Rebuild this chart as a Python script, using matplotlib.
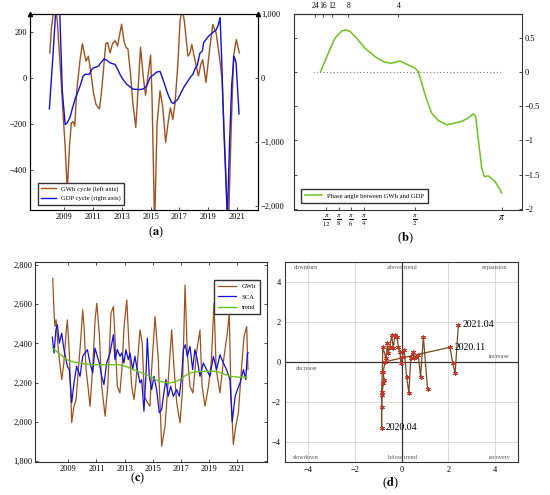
import numpy as np
import matplotlib
matplotlib.use("Agg")
import matplotlib.pyplot as plt
from matplotlib.lines import Line2D

plt.rcParams["font.family"] = ["Liberation Serif", "DejaVu Serif"]
plt.rcParams["mathtext.fontset"] = "stix"
plt.rcParams["font.size"] = 6

BROWN = "#a3501f"
BLUE = "#1010e0"
GREEN = "#6cc21c"
FRAME = "#333333"

# ---------------- (a) cycles ----------------
a_gwh_t = [2007.98, 2008.1, 2008.32, 2008.5, 2008.7, 2008.9, 2009.05, 2009.2, 2009.35,
           2009.48, 2009.6, 2009.72, 2009.85, 2010.09, 2010.25, 2010.5, 2010.67, 2010.85,
           2011.02, 2011.2, 2011.44, 2011.6, 2011.75, 2011.88, 2012.0, 2012.18, 2012.35,
           2012.53, 2012.7, 2012.98, 2013.15, 2013.3, 2013.42, 2013.6, 2013.75, 2013.97,
           2014.1, 2014.3, 2014.5, 2014.65, 2014.8, 2015.0, 2015.1, 2015.28, 2015.45,
           2015.66, 2015.85, 2016.05, 2016.25, 2016.38, 2016.55, 2016.7, 2016.9, 2017.05,
           2017.2, 2017.35, 2017.6, 2017.75, 2017.87, 2018.05, 2018.33, 2018.5, 2018.63,
           2018.86, 2019.1, 2019.33, 2019.56, 2019.8, 2019.97, 2020.2, 2020.4, 2020.6,
           2020.78, 2020.97, 2021.18]
a_gwh = [110, 220, 330, 250, 60, -150, -300, -490, -300,
         -195, -190, -210, -60, 81, 150, 74, 95, 20,
         -64, -115, -135, -50, 60, 150, 155, 110, 150,
         163, 140, 235, 160, 132, 128, 20, -100, -215,
         -80, 135, 0, -75, 0, 100, -80, -650, -200,
         -55, -130, -280, -180, -130, -180, -110, 60, 250,
         300, 250, 96, 110, 147, 90, 9, 60, 80,
         -19, 120, 234, 198, 90, 0, -350, -700, -250,
         96, 168, 110]

a_gdp_t = [2007.95, 2008.2, 2008.42, 2008.56, 2008.68, 2008.85, 2009.05, 2009.2, 2009.39,
           2009.55, 2009.74, 2010.09, 2010.3, 2010.44, 2010.74, 2010.9, 2011.02, 2011.37,
           2011.5, 2011.76, 2011.95, 2012.18, 2012.53, 2012.7, 2012.87, 2013.1, 2013.34,
           2013.8, 2014.27, 2014.5, 2014.73, 2014.96, 2015.19, 2015.45, 2015.66, 2015.89,
           2016.2, 2016.45, 2016.59, 2016.9, 2017.3, 2017.75, 2017.95, 2018.1, 2018.25,
           2018.44, 2018.6, 2018.7, 2019.02, 2019.3, 2019.55, 2019.7, 2019.84, 2019.95,
           2020.1, 2020.35, 2020.5, 2020.65, 2020.81, 2020.95, 2021.16]
a_gdp = [-485, 350, 1150, 1200, 1000, -200, -730, -700, -615,
         -480, -331, -124, 30, 57, 60, 130, 160, 186,
         230, 300, 280, 238, 212, 140, 57, -30, -98,
         -176, -180, -170, -120, 6, 50, 95, 105, -40,
         -250, -380, -400, -330, -150, 6, 60, 150, 200,
         394, 420, 560, 651, 710, 750, 820, 950, 300,
         -800, -2200, -1000, -100, 341, 250, -563]

# ---------------- (b) phase angle ----------------
b_freq = [0.207, 0.286, 0.355, 0.424, 0.465, 0.510, 0.634, 0.801, 0.956, 1.085, 1.203,
          1.343, 1.473, 1.575, 1.637, 1.697, 1.789, 1.878, 2.0, 2.149, 2.27, 2.422,
          2.541, 2.632, 2.674, 2.722, 2.784, 2.832, 2.903, 3.025, 3.097, 3.1416]
b_phase = [0.01, 0.28, 0.5, 0.605, 0.62, 0.6, 0.5, 0.35, 0.23, 0.156, 0.13,
           0.166, 0.107, 0.06, 0.01, -0.16, -0.405, -0.6, -0.71, -0.77, -0.75, -0.72,
           -0.67, -0.61, -0.65, -0.99, -1.41, -1.53, -1.52, -1.6, -1.7, -1.77]
b_tick_freq = [np.pi / 12, np.pi / 8, np.pi / 6, np.pi / 4, np.pi / 2, np.pi]
b_tick_lbl = [r"$\frac{\pi}{12}$", r"$\frac{\pi}{8}$", r"$\frac{\pi}{6}$",
              r"$\frac{\pi}{4}$", r"$\frac{\pi}{2}$", r"$\pi$"]
b_period_freq = [np.pi / 12, np.pi / 8, np.pi / 6, np.pi / 4, np.pi / 2]
b_period_lbl = ["24", "16", "12", "8", "4"]
# the frequency axis is stretched unevenly between the ticks
b_knot_w = [-1.0, np.pi / 12, np.pi / 8, np.pi / 6, np.pi / 4, np.pi / 2, np.pi, 5.0]
b_knot_pos = [-9.64, 0, 1, 2, 3, 7, 13.85, 21.95]

# ---------------- (c) levels ----------------
c_gwh_t = [2007.89, 2007.98, 2008.05, 2008.13, 2008.25, 2008.36, 2008.53, 2008.68, 2008.84,
           2008.93, 2009.07, 2009.24, 2009.4, 2009.55, 2009.71, 2009.88, 2010.02, 2010.12,
           2010.26, 2010.42, 2010.54, 2010.72, 2010.9, 2011.02, 2011.2, 2011.37, 2011.61,
           2011.8, 2012.03, 2012.2, 2012.3, 2012.48, 2012.66, 2012.82, 2012.95, 2013.15,
           2013.3, 2013.5, 2013.66, 2013.8, 2014.09, 2014.25, 2014.4, 2014.6, 2014.8,
           2014.9, 2015.16, 2015.39, 2015.63, 2015.87, 2016.1, 2016.34, 2016.5, 2016.7,
           2016.93, 2017.1, 2017.29, 2017.45, 2017.64, 2017.85, 2018.1, 2018.35, 2018.5,
           2018.71, 2018.95, 2019.15, 2019.35, 2019.5, 2019.77, 2020.0, 2020.29, 2020.43,
           2020.55, 2020.72, 2020.9, 2021.08, 2021.31, 2021.48, 2021.67, 2021.76]
c_gwh = [2732, 2562, 2486, 2520, 2400, 2317, 2215, 2300, 2454,
         2520, 2352, 1996, 2079, 2113, 2266, 2418, 2571, 2480,
         2266, 2164, 2079, 2266, 2520, 2605, 2450, 2181, 2028,
         2181, 2554, 2588, 2450, 2181, 2147, 2280, 2480, 2622,
         2400, 2181, 2113, 2200, 2469, 2400, 2130, 2100, 2079,
         2250, 2537, 2317, 1875, 1977, 2215, 2469, 2280, 2096,
         1994, 2150, 2698, 2350, 2181, 2147, 2350, 2469, 2180,
         2079, 2180, 2300, 2605, 2270, 2147, 2300, 2452, 2554,
         2147, 1884, 1980, 2045, 2283, 2435, 2486, 2266]

c_sca_t = [2007.86, 2007.98, 2008.12, 2008.22, 2008.36, 2008.53, 2008.69, 2008.93, 2009.07,
           2009.24, 2009.4, 2009.59, 2009.83, 2010.02, 2010.18, 2010.35, 2010.54, 2010.73,
           2010.89, 2011.2, 2011.37, 2011.53, 2011.72, 2011.96, 2012.2, 2012.31, 2012.48,
           2012.67, 2012.79, 2012.95, 2013.09, 2013.26, 2013.38, 2013.57, 2013.73, 2013.85,
           2014.09, 2014.21, 2014.37, 2014.51, 2014.61, 2014.75, 2014.92, 2015.08, 2015.27,
           2015.46, 2015.63, 2015.75, 2015.93, 2016.1, 2016.27, 2016.46, 2016.69, 2016.88,
           2017.05, 2017.17, 2017.31, 2017.45, 2017.64, 2017.83, 2017.99, 2018.16, 2018.35,
           2018.59, 2018.82, 2019.06, 2019.3, 2019.53, 2019.77, 2020.01, 2020.24, 2020.48,
           2020.64, 2020.85, 2021.01, 2021.2, 2021.44, 2021.6, 2021.72, 2021.78]
c_sca = [2432, 2351, 2469, 2495, 2402, 2452, 2368, 2283, 2266,
         2097, 2198, 2283, 2232, 2334, 2351, 2368, 2300, 2249,
         2376, 2300, 2232, 2190, 2300, 2351, 2444, 2317, 2368,
         2334, 2351, 2300, 2368, 2317, 2351, 2266, 2334, 2283,
         2198, 2215, 2054, 2232, 2427, 2232, 2164, 2232, 2164,
         2046, 2063, 2130, 2215, 2130, 2181, 2130, 2164, 2130,
         2232, 2368, 2393, 2334, 2385, 2266, 2368, 2317, 2232,
         2300, 2266, 2232, 2334, 2266, 2342, 2300, 2266, 2215,
         2000, 2130, 2164, 2198, 2266, 2215, 2351, 2351]

c_trend_t = [2007.89, 2008.4, 2008.89, 2009.4, 2009.83, 2010.3, 2010.78, 2011.7, 2012.66,
             2013.1, 2013.62, 2014.1, 2014.57, 2014.9, 2015.16, 2015.51, 2015.9, 2016.22,
             2016.6, 2016.93, 2017.3, 2017.64, 2018.1, 2018.59, 2019.1, 2019.54, 2020.0,
             2020.48, 2021.0, 2021.67]
c_trend = [2376, 2345, 2317, 2305, 2300, 2294, 2291, 2291, 2291,
           2282, 2266, 2252, 2240, 2228, 2215, 2206, 2200, 2198,
           2204, 2215, 2235, 2249, 2255, 2257, 2258, 2257, 2245,
           2232, 2228, 2228]

year_ticks = [2009, 2011, 2013, 2015, 2017, 2019, 2021]

# ---------------- (d) cycle clock ----------------
d_x = [1.11, 0.93, 0.81, 0.71, 0.61, 0.53, 0.47, 0.39, 0.31, 0.21, 0.11, 0.03, -0.04,
       -0.07, -0.14, -0.21, -0.29, -0.36, -0.43, -0.50, -0.57, -0.61, -0.67, -0.81,
       -0.83, -0.86, -0.86, -0.86, -0.84, -0.79, -0.76, -0.79, -0.71, 2.07, 2.19, 2.29, 2.43]
d_y = [-1.33, 1.28, -0.72, 0.37, 0.28, 0.20, 0.53, 0.20, -1.55, -0.72, 0.62, 0.28, -0.05,
       0.53, 0.78, 1.28, 1.37, 0.70, 1.37, 0.78, 0.45, 0.95, 0.20, 0.75,
       -0.50, -1.50, -3.27, -2.22, -1.63, -1.05, -0.88, -0.47, 0.03, 0.75, -0.05, -0.55, 1.87]
d_lbl_idx = [26, 33, 36]
d_lbl = ["2020.04", "2020.11", "2021.04"]
d_quad_txt = ["downturn", "above trend", "expansion", "decrease", "increase",
              "slowdown", "below trend", "recovery"]
d_quad_x = [-4.1, 0, 4.0, -4.1, 4.2, -4.1, 0, 4.2]
d_quad_y = [4.75, 4.75, 4.75, -0.3, 0.3, -4.75, -4.75, -4.75]


def style(ax, col=FRAME):
    for s in ax.spines.values():
        s.set_color(col)
        s.set_linewidth(0.8)
    ax.tick_params(direction="in", length=2.5, width=0.5, labelsize=6, pad=2)


fig = plt.figure(figsize=(5.5, 4.95), dpi=100)

# (a)
ax_a = fig.add_axes([0.0545, 0.5758, 0.4151, 0.3953])
style(ax_a, "black")
ax_a.plot(a_gwh_t, a_gwh, color=BROWN, lw=1.0)
ax_a.set_ylim(-575, 278)
ax_a.set_xlim(2006.6, 2022.5)
ax_a.set_yticks([-400, -200, 0, 200])
ax_a.set_xticks(year_ticks)
ax_a.tick_params(right=False)
ax_a2 = ax_a.twinx()
style(ax_a2, "black")
ax_a2.plot(a_gdp_t, a_gdp, color=BLUE, lw=1.0)
ax_a2.set_ylim(-2070, 1000)
ax_a2.set_yticks([-2000, -1000, 0, 1000])
ax_a2.set_yticklabels(["\u22122,000", "\u22121,000", "0", "1,000"])
ax_a.plot([0, 1], [1, 1], ls="none", marker="^", ms=3, color="black",
          transform=ax_a.transAxes, clip_on=False)
ax_a.legend(handles=[Line2D([], [], color=BROWN, lw=1.0, label="GWh cycle (left axis)"),
                     Line2D([], [], color=BLUE, lw=1.0, label="GDP cycle (right axis)")],
            loc="lower left", bbox_to_anchor=(0.02, 0.01), fontsize=4.8,
            frameon=True, fancybox=False, edgecolor=FRAME, framealpha=1,
            handlelength=2.2, borderpad=0.5, labelspacing=0.5)

# (b)
ax_b = fig.add_axes([0.5351, 0.5758, 0.4134, 0.3953])
style(ax_b)
ax_b.set_xscale("function", functions=(lambda w: np.interp(w, b_knot_w, b_knot_pos),
                                       lambda p: np.interp(p, b_knot_pos, b_knot_w)))
ax_b.plot([0.131, np.pi], [0, 0], color="#777777", lw=0.8, ls=(0, (1, 2)))
ax_b.plot(b_freq, b_phase, color=GREEN, lw=1.1, label="Phase angle between GWh and GDP")
ax_b.set_xlim(-0.065, 3.506)
ax_b.set_ylim(-2.02, 0.85)
ax_b.set_xticks(b_tick_freq)
ax_b.set_xticklabels(b_tick_lbl, fontsize=7)
ax_b.set_yticks([-2, -1.5, -1, -0.5, 0, 0.5])
ax_b.set_yticklabels(["\u22122", "\u22121.5", "\u22121", "\u22120.5", "0", "0.5"])
ax_b.tick_params(left=True, right=True, labelleft=False, labelright=True)
ax_b.xaxis.set_minor_locator(plt.NullLocator())
top_b = ax_b.secondary_xaxis("top")
top_b.set_xticks(b_period_freq)
top_b.set_xticklabels(b_period_lbl, fontsize=5.5)
top_b.tick_params(direction="in", length=2.5, width=0.5, pad=3)
top_b.xaxis.set_minor_locator(plt.NullLocator())
ax_b.legend(loc="lower left", bbox_to_anchor=(0.015, 0.02), fontsize=4.8,
            frameon=True, fancybox=False, edgecolor=FRAME, framealpha=1,
            handlelength=2.5, borderpad=0.6)

# (c)
ax_c = fig.add_axes([0.0636, 0.0661, 0.4213, 0.4040])
style(ax_c)
ax_c.plot(c_gwh_t, c_gwh, color=BROWN, lw=0.9, label="GWh")
ax_c.plot(c_sca_t, c_sca, color=BLUE, lw=0.9, label="SCA")
ax_c.plot(c_trend_t, c_trend, color=GREEN, lw=1.0, label="trend")
ax_c.set_xlim(2006.63, 2023.09)
ax_c.set_ylim(1793, 2814)
ax_c.set_xticks(year_ticks)
ax_c.set_yticks([1800, 2000, 2200, 2400, 2600, 2800])
ax_c.set_yticklabels(["1,800", "2,000", "2,200", "2,400", "2,600", "2,800"])
ax_c.tick_params(top=True, right=True)
ax_c.legend(loc="upper right", bbox_to_anchor=(0.985, 0.93), fontsize=4.8,
            frameon=True, fancybox=False, edgecolor=FRAME, framealpha=1,
            handlelength=2.8, borderpad=0.6, labelspacing=0.7)

# (d)
ax_d = fig.add_axes([0.5182, 0.0661, 0.4242, 0.4040])
style(ax_d)
ax_d.set_xlim(-5, 5)
ax_d.set_ylim(-5, 5)
ax_d.set_xticks([-4, -2, 0, 2, 4])
ax_d.set_yticks([-4, -2, 0, 2, 4])
ax_d.set_xticklabels(["\u22124", "\u22122", "0", "2", "4"])
ax_d.set_yticklabels(["\u22124", "\u22122", "0", "2", "4"])
ax_d.tick_params(length=0, pad=3)
ax_d.grid(True, color="#cccccc", lw=0.5)
ax_d.axhline(0, color="#333333", lw=0.9)
ax_d.axvline(0, color="#333333", lw=0.9)
ax_d.plot(d_x, d_y, color="#7a4a1e", lw=0.9, marker=(6, 2, 0), ms=3.5,
          mec="#c0392b", mew=0.7)
for i, t in zip(d_lbl_idx, d_lbl):
    ax_d.annotate(t, (d_x[i], d_y[i]), xytext=(3, 0), textcoords="offset points",
                  va="center", ha="left", fontsize=7)
for t, x, y in zip(d_quad_txt, d_quad_x, d_quad_y):
    ax_d.text(x, y, t, fontsize=4.5, color="#555555", ha="center", va="center")

# panel labels
fig.text(0.283, 1 - 232 / 495, r"($\mathbf{a}$)", ha="center", va="center", fontsize=9)
fig.text(0.7376, 1 - 238 / 495, r"($\mathbf{b}$)", ha="center", va="center", fontsize=9)
fig.text(0.251, 1 - 478 / 495, r"($\mathbf{c}$)", ha="center", va="center", fontsize=9)
fig.text(0.709, 1 - 483 / 495, r"($\mathbf{d}$)", ha="center", va="center", fontsize=9)

fig.savefig("out.png", dpi=100)
